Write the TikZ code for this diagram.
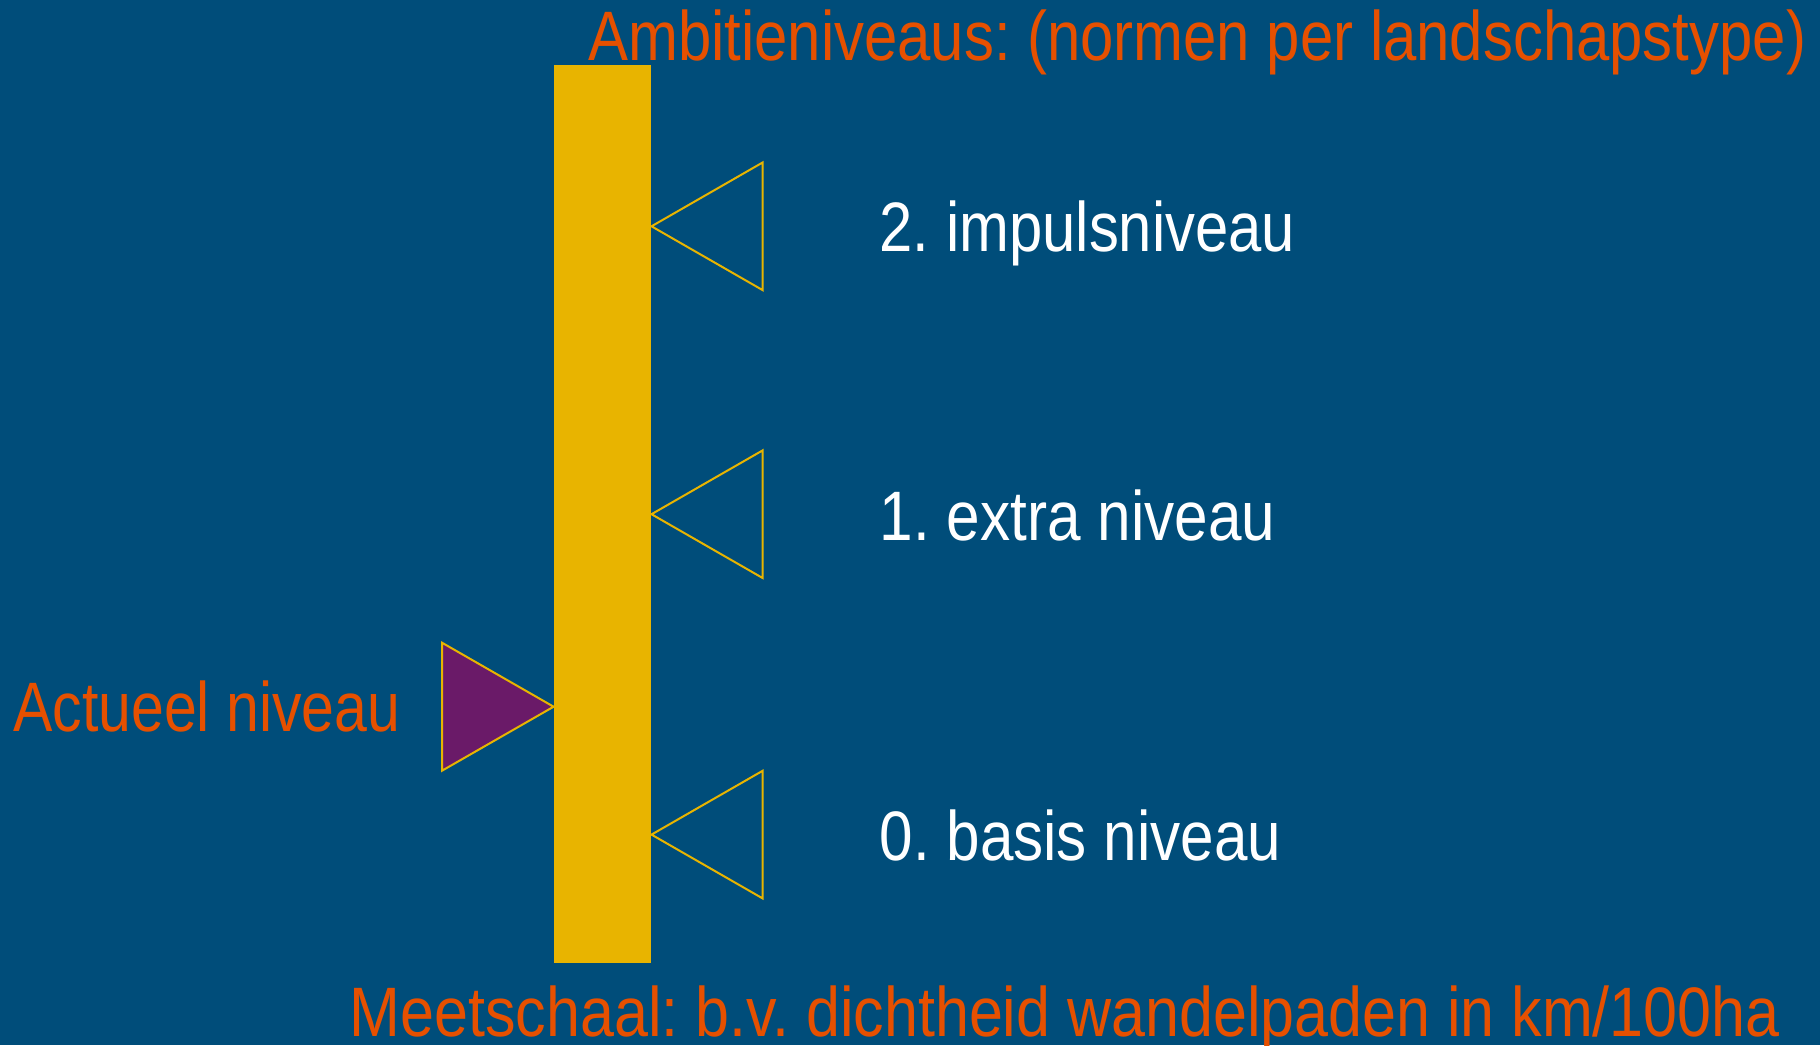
\documentclass[tikz,border=0pt]{standalone}
\usepackage{fontspec}
\usepackage{graphicx}
\setmainfont[FakeStretch=0.83]{Liberation Sans}
\definecolor{bg}{RGB}{0,77,122}
\definecolor{bar}{RGB}{232,180,0}
\definecolor{org}{RGB}{230,80,0}
\definecolor{purp}{RGB}{106,26,104}
\newcommand\fitw[2]{\frenchspacing\setbox0\hbox{#2}\pgfmathsetmacro\myfx{#1/\wd0}\scalebox{\myfx}[1]{\box0}}
\begin{document}
\begin{tikzpicture}[x=1pt,y=-1pt,
  lbl/.style={anchor=base west,inner sep=0pt,font=\fontsize{70}{80}\selectfont},
  olbl/.style={lbl,text=org},
  wlbl/.style={lbl,text=white},
  tri/.style={draw=bar,line width=2pt,line join=miter}]
\fill[bg] (0,0) rectangle (1820,1045);
\useasboundingbox (0,0) rectangle (1820,1045);
\fill[bar] (553.7,65) rectangle (651.2,963);
\node[olbl] (amb) at (588,60) {\fitw{1218}{Ambitieniveaus: (normen per landschapstype)}};
\node[olbl] (act) at (13,731.7) {\fitw{387}{Actueel niveau}};
\node[olbl] (mee) at (349.5,1036) {\fitw{1430}{Meetschaal: b.v. dichtheid wandelpaden in km/100ha}};
\node[wlbl] (t2) at (879.5,251.7) {\fitw{415.5}{2. impulsniveau}};
\node[wlbl] (t1) at (879.5,540) {\fitw{395.5}{1. extra niveau}};
\node[wlbl] (t0) at (879.5,860) {\fitw{401.5}{0. basis niveau}};
\foreach \c in {226.3,514.2,834.6}{
  \draw[tri] (651.5,\c) -- (762.6,\c-63.8) -- (762.6,\c+63.8) -- cycle;
}
\draw[tri,fill=purp] (553.6,706.7) -- (442,642.7) -- (442,770.7) -- cycle;
\end{tikzpicture}
\end{document}
